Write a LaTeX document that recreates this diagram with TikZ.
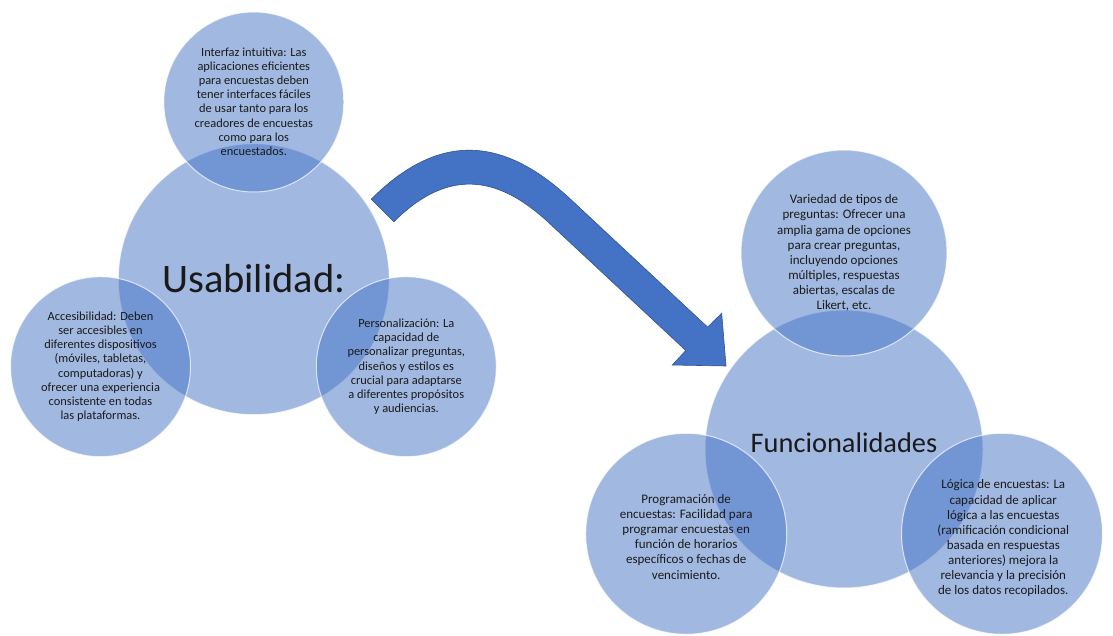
\documentclass[tikz,border=0pt]{standalone}
\usepackage{fontspec}
\setmainfont{Carlito}
\definecolor{accent}{HTML}{4472C4}
\definecolor{arrowline}{HTML}{2F528F}
\definecolor{txt}{HTML}{1A1A1A}
\tikzset{
  venn/.style={circle, fill=accent, fill opacity=0.5, draw=white, draw opacity=0.7, line width=1pt, inner sep=0pt},
  smalltxt/.style={align=center, inner sep=0pt, text=txt, font=\fontsize{12.4}{14.2}\selectfont},
  smalltxtb/.style={align=center, inner sep=0pt, text=txt, font=\fontsize{13}{15.1}\selectfont},
  bigtxt/.style={inner sep=0pt, text=txt},
  blockarrow/.style={fill=accent, draw=arrowline, line width=0.6pt, line join=miter}
}
\begin{document}
\begin{tikzpicture}[x=1pt,y=-1pt]
\useasboundingbox (0,0) rectangle (1113,636);
% left group
\node[venn, minimum size=271pt] (usab) at (253.8,279.2) {};
\node[venn, minimum size=180pt] (interfaz) at (253.8,102) {};
\node[venn, minimum size=180pt] (acces) at (100.5,366.7) {};
\node[venn, minimum size=180pt] (perso) at (406.3,366.7) {};
% right group
\node[venn, minimum size=278pt] (func) at (844,449) {};
\node[venn, minimum size=206pt] (varied) at (844,253) {};
\node[venn, minimum size=201pt] (prog) at (686.2,533.8) {};
\node[venn, minimum size=201pt] (logica) at (1002,533.8) {};
% block arrow
\draw[blockarrow] (371.2,199.2) .. controls (444.3,126.1) and (509.2,142) .. (570.9,199.6)
  -- (707.6,327.1) -- (721.7,313.3) -- (726,366) -- (672.3,365) -- (685.8,350.5)
  -- (549.1,223) .. controls (501.1,178.2) and (450.6,165) .. (393.8,221.8) -- cycle;
% texts
\node[bigtxt, font=\fontsize{40.5}{46}\selectfont] (usabt) at ([yshift=1pt]usab.center) {Usabilidad:};
\node[bigtxt, font=\fontsize{28.4}{32}\selectfont] (funct) at ([yshift=6pt]func.center) {Funcionalidades};
\node[smalltxt] (interfazt) at ([yshift=0.5pt]interfaz.center) {Interfaz intuitiva: Las\\aplicaciones eficientes\\para encuestas deben\\tener interfaces fáciles\\de usar tanto para los\\creadores de encuestas\\como para los\\encuestados.};
\node[smalltxt] (accest) at (acces.center) {Accesibilidad: Deben\\ser accesibles en\\diferentes dispositivos\\(móviles, tabletas,\\computadoras) y\\ofrecer una experiencia\\consistente en todas\\las plataformas.};
\node[smalltxt] (persot) at (perso.center) {Personalización: La\\capacidad de\\personalizar preguntas,\\diseños y estilos es\\crucial para adaptarse\\a diferentes propósitos\\y audiencias.};
\node[smalltxtb] (variedt) at (varied.center) {Variedad de tipos de\\preguntas: Ofrecer una\\amplia gama de opciones\\para crear preguntas,\\incluyendo opciones\\múltiples, respuestas\\abiertas, escalas de\\Likert, etc.};
\node[smalltxtb] (progt) at ([yshift=-3pt]prog.center) {Programación de\\encuestas: Facilidad para\\programar encuestas en\\función de horarios\\específicos o fechas de\\vencimiento.};
\node[smalltxtb] (logicat) at ([xshift=1.3pt,yshift=-4.5pt]logica.center) {Lógica de encuestas: La\\capacidad de aplicar\\lógica a las encuestas\\(ramificación condicional\\basada en respuestas\\anteriores) mejora la\\relevancia y la precisión\\de los datos recopilados.};
\end{tikzpicture}
\end{document}
